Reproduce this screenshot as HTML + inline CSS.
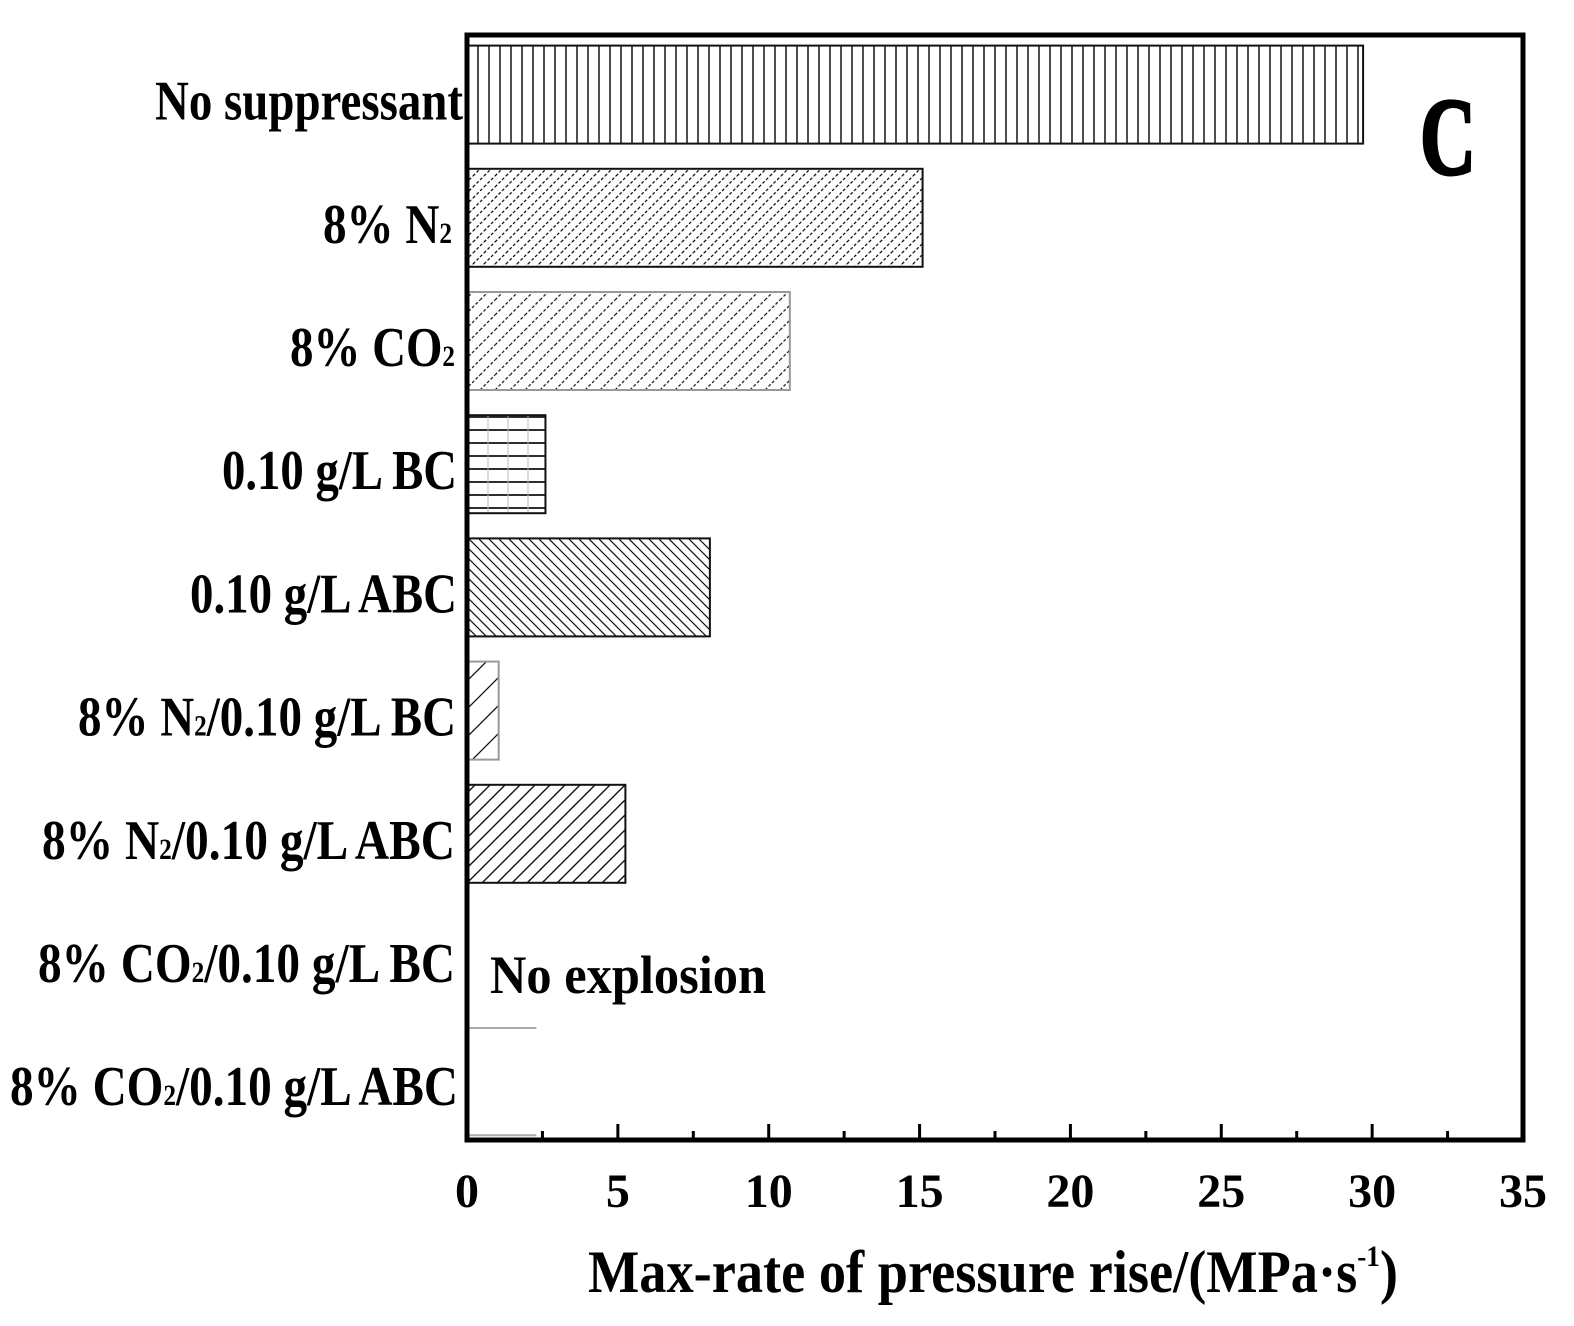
<!DOCTYPE html>
<html><head><meta charset="utf-8"><style>body{margin:0;background:#fff}svg{display:block}</style></head>
<body>
<svg id="chart" width="1574" height="1326" viewBox="0 0 1574 1326" xmlns="http://www.w3.org/2000/svg" font-family="Liberation Serif, serif" font-weight="bold">
<defs>
<pattern id="p0" width="66" height="10" patternUnits="userSpaceOnUse"><path d="M5 0V10M16 0V10M27 0V10M38 0V10M49 0V10M60 0V10" stroke="#222" stroke-width="1.6"/></pattern>
<pattern id="p1" width="11" height="11" patternUnits="userSpaceOnUse"><path d="M0 11L11 0M-2 2L2 -2M9 13L13 9" stroke="#111" stroke-width="1.3" stroke-dasharray="3 2"/></pattern>
<pattern id="p2" width="15" height="15" patternUnits="userSpaceOnUse"><path d="M0 15L15 0M-2 2L2 -2M13 17L17 13" stroke="#222" stroke-width="1.3" stroke-dasharray="3 2"/></pattern>
<pattern id="p3" width="20" height="13" patternUnits="userSpaceOnUse"><path d="M0 1H20" stroke="#111" stroke-width="1.8"/><path d="M8 0V13" stroke="#bbb" stroke-width="1"/></pattern>
<pattern id="p4" width="10" height="10" patternUnits="userSpaceOnUse"><path d="M0 0L10 10M-2 8L2 12M8 -2L12 2" stroke="#111" stroke-width="1.2"/></pattern>
<pattern id="p5" width="28" height="28" patternUnits="userSpaceOnUse"><path d="M0 28L28 0M-2 2L2 -2M26 30L30 26" stroke="#111" stroke-width="1.3"/></pattern>
<pattern id="p6" width="15" height="15" patternUnits="userSpaceOnUse"><path d="M0 15L15 0M-2 2L2 -2M13 17L17 13" stroke="#111" stroke-width="1.4"/></pattern>
</defs>
<g id="bars"></g>
<g id="axes"></g>
<text x="1420" y="174" font-size="110" textLength="56" lengthAdjust="spacingAndGlyphs" stroke="#000" stroke-width="3">C</text>
<text x="490" y="993" font-size="54" textLength="276" lengthAdjust="spacingAndGlyphs">No explosion</text>
<text x="588" y="1292" font-size="60" textLength="810" lengthAdjust="spacingAndGlyphs">Max-rate of pressure rise/(MPa·s<tspan font-size="30" dy="-26">-1</tspan><tspan dy="26">)</tspan></text>
</svg>
<script>
const categories = ["No suppressant","8% N2","8% CO2","0.10 g/L BC","0.10 g/L ABC","8% N2/0.10 g/L BC","8% N2/0.10 g/L ABC","8% CO2/0.10 g/L BC","8% CO2/0.10 g/L ABC"];
const values = [29.7, 15.1, 10.7, 2.6, 8.05, 1.05, 5.25, 0, 0];
const xTicks = [0,5,10,15,20,25,30,35];
const NS="http://www.w3.org/2000/svg";
const X0=467, X1=1523, Y0=35, Y1=1140, xmax=35;
const rowTop=33, rowH=123.2, barH=98;
const labelW=[308,129,165,235,267,378,413,417,448];
const labelRight=[463,452,455,457,457,456,455,455,458];
function xs(v){return X0+(X1-X0)*v/xmax;}
function yc(i){return rowTop+rowH*(i+0.5);}
const bars=document.getElementById('bars'), axes=document.getElementById('axes');
const fills=['url(#p0)','url(#p1)','url(#p2)','url(#p3)','url(#p4)','url(#p5)','url(#p6)','none','none'];
const strokes=['#111','#111','#999','#111','#111','#999','#111','#999','#999'];
function mk(tag,attrs,parent){const e=document.createElementNS(NS,tag);for(const k in attrs)e.setAttribute(k,attrs[k]);parent.appendChild(e);return e;}
values.forEach((v,i)=>{
  const r=mk('rect',{x:X0,y:yc(i)-barH/2,width:Math.max(0,xs(v)-X0),height:barH,fill:fills[i],stroke:strokes[i],'stroke-width':2},bars);
  
  
  const t=mk('text',{x:labelRight[i]-labelW[i],y:yc(i)+25,'font-size':56,textLength:labelW[i],lengthAdjust:'spacingAndGlyphs'},axes);
  
  
  const parts=categories[i].split(/(N2|CO2)/);
  parts.forEach(p=>{
    if(p==='N2'||p==='CO2'){const a=mk('tspan',{},t);a.textContent=p.slice(0,-1);const b=mk('tspan',{'font-size':30},t);b.textContent='2';}
    else if(p){const a=mk('tspan',{},t);a.textContent=p;}
  });
});
[[7,71],[8,55]].forEach(([i,off])=>{const l=mk('line',{x1:X0,x2:xs(2.3),y1:yc(i)+off,y2:yc(i)+off,stroke:'#aaa','stroke-width':2},bars);
  
  });
const frame=mk('rect',{x:X0,y:Y0,width:X1-X0,height:Y1-Y0,fill:'none',stroke:'#000','stroke-width':5},axes);


for(let v=0;v<=xmax;v+=2.5){
  const major=v%5===0;
  const l=mk('line',{x1:xs(v),x2:xs(v),y1:Y1,y2:Y1-(major?16:9),stroke:'#000','stroke-width':3},axes);
  
  
}
xTicks.forEach(v=>{
  const t=mk('text',{x:xs(v),y:1207,'text-anchor':'middle','font-size':48},axes);
  
  
  t.textContent=v;
});
</script>
</body></html>
